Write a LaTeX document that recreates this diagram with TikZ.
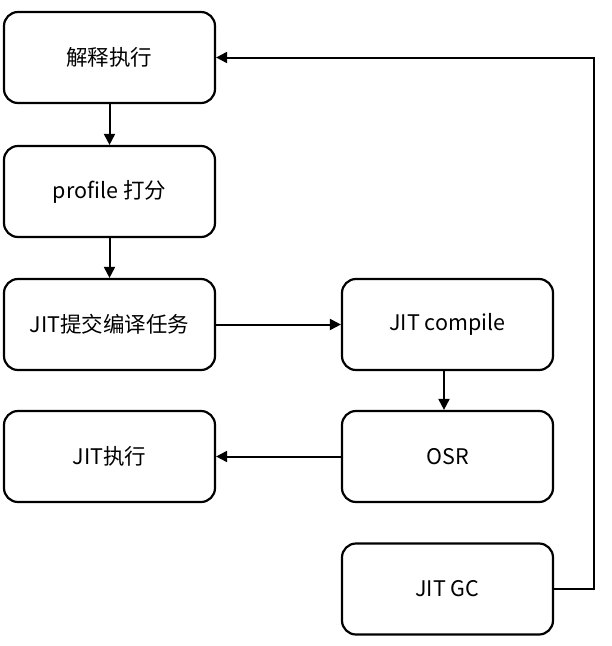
\documentclass[tikz,border=0pt]{standalone}
\usepackage{fontspec}
\setmainfont{Noto Sans CJK SC}
\usetikzlibrary{arrows.meta}
\begin{document}
\begin{tikzpicture}[x=1pt,y=-1pt,
  box/.style={draw,line width=2.2pt,rounded corners=14pt,minimum width=211pt,minimum height=91pt,inner sep=0pt,font=\fontsize{21.5}{24}\selectfont},
  arr/.style={line width=2pt,-{Triangle[length=11pt,width=11pt]}}]
\useasboundingbox (0,0) rectangle (612,646);
\fill[white] (0,0) rectangle (612,646);
\node[box] (a) at (109.5,57.5) {解释执行};
\node[box] (b) at (109.5,191.5) {profile 打分};
\node[box] (c) at (109.5,324.5) {JIT提交编译任务};
\node[box] (d) at (109.5,456.5) {JIT执行};
\node[box] (e) at (447.5,324.5) {JIT compile};
\node[box] (f) at (447.5,456.5) {OSR};
\node[box] (g) at (447.5,589) {JIT GC};
\coordinate (k1) at (594,589);
\coordinate (k2) at (594,57.5);
\draw[arr] (a) -- (b);
\draw[arr] (b) -- (c);
\draw[arr] (c) -- (e);
\draw[arr] (e.south -| 444,0) -- (f.north -| 444,0);
\draw[arr] (f) -- (d);
\draw[arr] (g.east) -- (k1) -- (k2) -- (a.east);
\end{tikzpicture}
\end{document}
